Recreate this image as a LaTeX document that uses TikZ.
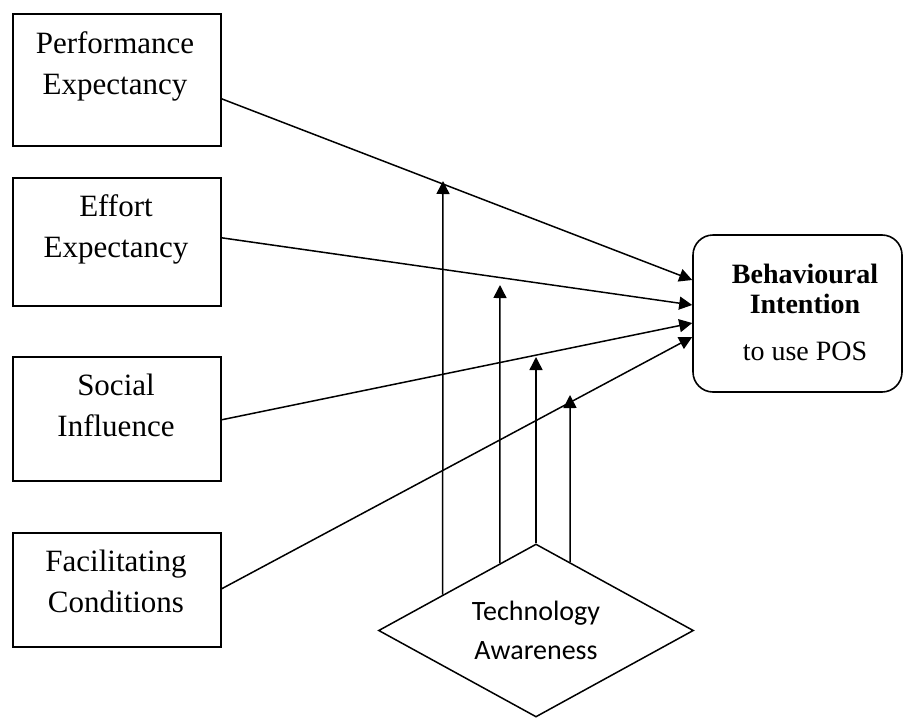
\documentclass[tikz,border=0pt]{standalone}
\usepackage{fontspec}
\setmainfont{Liberation Serif}
\newfontfamily\calib{Carlito}
\usetikzlibrary{shapes.geometric,arrows.meta,calc}
\begin{document}
\begin{tikzpicture}[x=1pt,y=-1pt,
  box/.style={draw, line width=1.6pt, inner sep=0pt, minimum width=208pt, anchor=north west},
  lbl/.style={anchor=north, inner sep=0pt, align=center, font=\fontsize{31}{41}\selectfont},
  arr/.style={line width=1.5pt, -{Triangle[length=13pt,width=13pt]}}
]
\useasboundingbox (0,0) rectangle (904,717);
% input boxes
\node[box, minimum height=132pt] (pe) at (12,13) {};
\node[box, minimum height=128pt] (ee) at (12,177) {};
\node[box, minimum height=124pt] (si) at (12,356) {};
\node[box, minimum height=114pt] (fc) at (12,532) {};
\node[lbl] (pet) at (115,31) {Performance\\Expectancy};
\node[lbl] (eet) at (116,194.5) {Effort\\Expectancy};
\node[lbl] (sit) at (116,373.5) {Social\\Influence};
\node[lbl] (fct) at (116,549.5) {Facilitating\\Conditions};
% outcome
\node[draw, rounded corners=20pt, line width=1.6pt, minimum width=209pt, minimum height=157pt] (bi) at (797.5,313.5) {};
\node[align=center, inner sep=0pt, font=\fontsize{28}{30}\selectfont] (bit) at (805,312)
      {\textbf{Behavioural}\\\textbf{Intention}\\[17pt]to use POS};
% moderator
\node[draw, diamond, line width=1.5pt, minimum width=315pt, minimum height=173pt, shape aspect=1.82,
      inner sep=0pt, align=center, font=\calib\fontsize{28}{39}\selectfont] (ta) at (536,630.5)
      {Technology\\Awareness};
% main arrows
\draw[arr] ([yshift=-19pt]pe.east) -- ([yshift=33.5pt]bi.west);
\draw[arr] ([yshift=4pt]ee.east) -- ([yshift=8.5pt]bi.west);
\draw[arr] ([yshift=-1pt]si.east) -- ([yshift=-9.5pt]bi.west);
\draw[arr] ([yshift=1pt]fc.east) -- ([yshift=-23.5pt]bi.west);
% moderating arrows
\coordinate (t1) at (443,181);
\coordinate (t2) at (500,285);
\coordinate (t3) at (536,357);
\coordinate (t4) at (570,395);
\draw[arr] ($(ta.west)!0.41!(ta.north)$) -- (t1);
\draw[arr] ($(ta.west)!0.771!(ta.north)$) -- (t2);
\draw[arr] (ta.north) -- (t3);
\draw[arr] ($(ta.north)!0.216!(ta.east)$) -- (t4);
\end{tikzpicture}
\end{document}
